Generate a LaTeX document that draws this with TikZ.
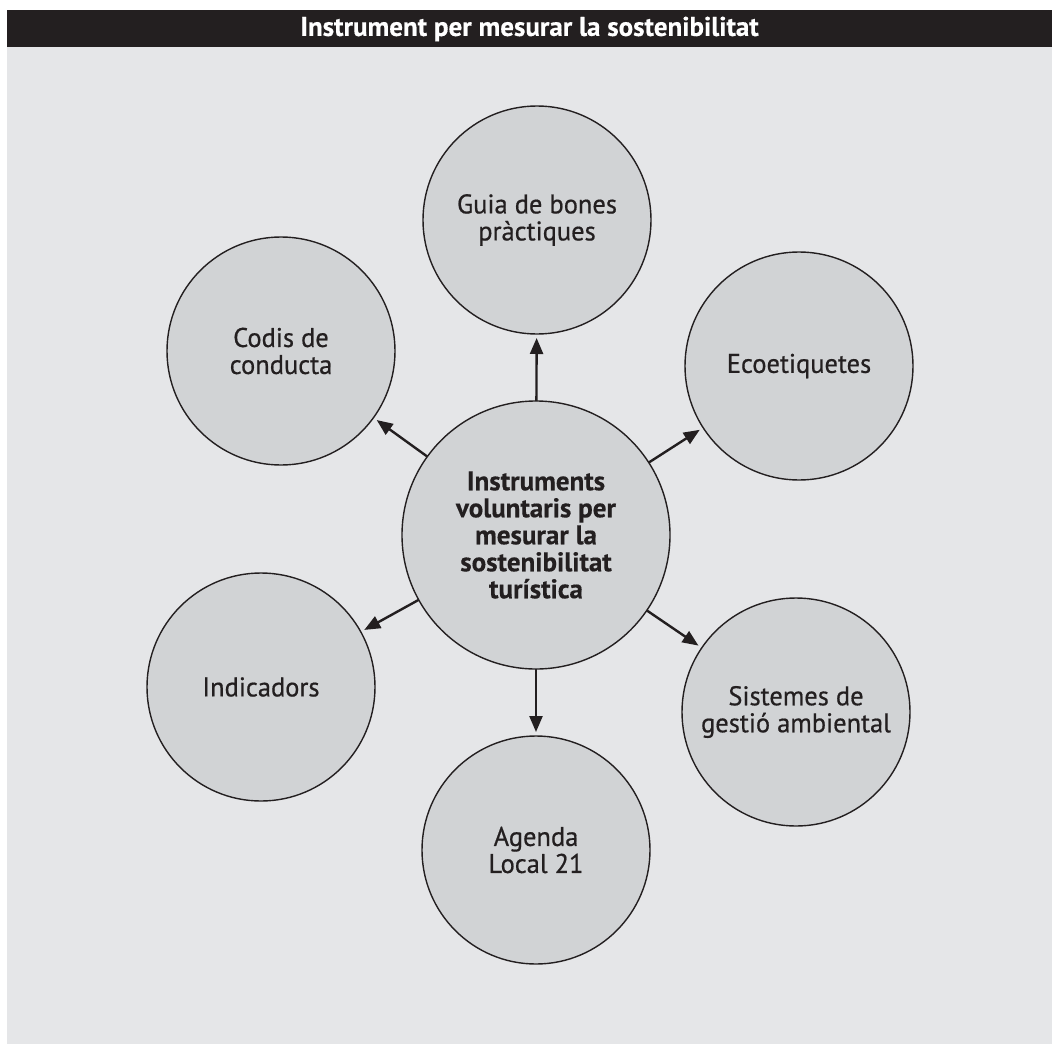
\documentclass[tikz,border=0pt]{standalone}
\usepackage{fontspec}
\setmainfont{PT Sans}
\newfontfamily\labelfont[FakeStretch=0.98, FakeBold=0.6]{PT Sans}
\newfontfamily\hubfont[BoldFeatures={FakeBold=0.4}]{PT Sans}
\usetikzlibrary{arrows.meta}
\definecolor{ink}{HTML}{231F20}
\definecolor{bg}{HTML}{E5E6E8}
\definecolor{disc}{HTML}{D1D3D5}
\tikzset{
  outer/.style={circle, draw=ink, fill=disc, line width=1.4pt, minimum size=228pt,
    inner sep=0pt, outer sep=0pt, align=center, text=ink,
    font=\labelfont\fontsize{27}{27}\selectfont},
  hub/.style={outer, minimum size=268pt, font=\hubfont\bfseries\fontsize{27}{27}\selectfont},
  arr/.style={-{Triangle[length=16pt,width=13pt]}, line width=2.4pt, draw=ink, shorten >=4pt},
  titletext/.style={text=white, font=\hubfont\bfseries\fontsize{27}{27}\selectfont, inner sep=0pt}
}
\begin{document}
\begin{tikzpicture}[x=1pt,y=-1pt]
\useasboundingbox (0,0) rectangle (1052,1044);
\fill[white] (0,0) rectangle (1052,1044);
\fill[bg] (7,47) rectangle (1052,1044);
\fill[ink] (7,10) rectangle (1052,47);
\node[titletext] (title) at (529.5,29) {Instrument per mesurar la sostenibilitat};

\node[hub] (hub) at (536,535) {Instruments\\voluntaris per\\mesurar la\\sostenibilitat\\turística};
\node[outer] (guia) at (537,220) {Guia de bones\\pràctiques};
\node[outer] (codis) at (281,351) {Codis de\\conducta};
\node[outer] (eco) at (799,366) {Ecoetiquetes};
\node[outer] (ind) at (261,687) {Indicadors};
\node[outer] (sis) at (796,712) {Sistemes de\\gestió ambiental};
\node[outer] (agenda) at (536,850) {Agenda\\Local 21};

\foreach \t in {guia,codis,eco,ind,sis,agenda}
  \draw[arr] (hub) -- (\t);
\end{tikzpicture}
\end{document}
